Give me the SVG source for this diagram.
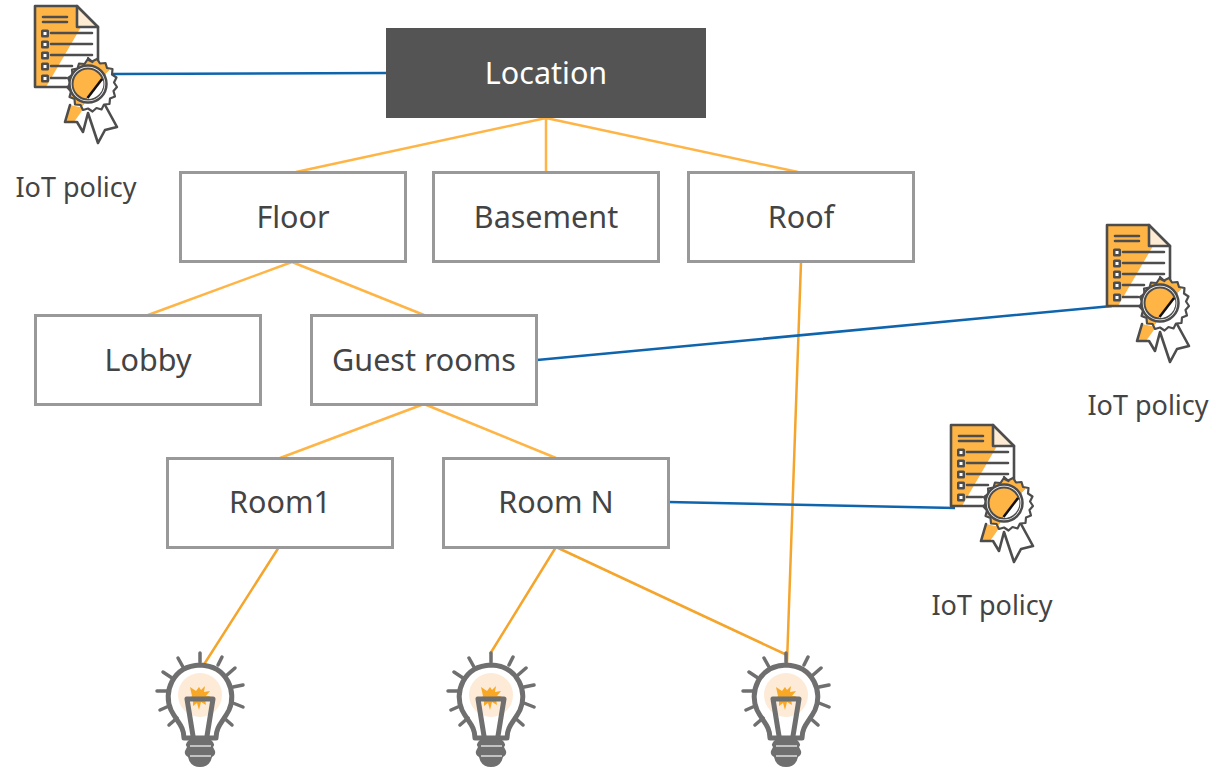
<svg xmlns="http://www.w3.org/2000/svg" width="1216" height="768" viewBox="0 0 1216 768">
<style>
text{font-family:"Noto Sans","Open Sans",sans-serif;font-size:30.500px;fill:#444;text-anchor:middle}
.box{fill:#fff;stroke:#999;stroke-width:3}
.o{stroke:#ffb546;stroke-width:2.5;fill:none}
.d{stroke:#f5a52c;stroke-width:2.5;fill:none}
.b{stroke:#0e64ad;stroke-width:2.5;fill:none}
.cl{fill:none;stroke:#4d4d4d;stroke-width:2.6;stroke-linejoin:round;stroke-linecap:round}
.bl{fill:none;stroke:#6f6f6f;stroke-width:5;stroke-linejoin:round;stroke-linecap:round}
</style>
<defs>
<linearGradient id="seal" gradientUnits="userSpaceOnUse" x1="74" y1="73.500" x2="116" y2="104.500"><stop offset="0.500" stop-color="#ffb546"/><stop offset="0.500" stop-color="#fff"/></linearGradient>
<g id="cert">
<path d="M35 6H77L98 27V87H35Z" fill="#fff"/>
<path d="M35 6H77V27H81L60 63L46 87H35Z" fill="#ffb546"/>
<path d="M77 6L98 27H77Z" fill="#fdebd3"/>
<path class="cl" d="M35 6H77L98 27V87H35Z"/>
<path class="cl" d="M77 6V27H98"/>
<path class="cl" d="M43 17H67M43 22H67M51 33H92M51 44H92M51 55H92M51 66H72M51 78H66"/>
<g fill="#4d4d4d"><rect x="41" y="29.500" width="8" height="8" rx="1.500"/><rect x="41" y="40.500" width="8" height="8" rx="1.500"/><rect x="41" y="51.500" width="8" height="8" rx="1.500"/><rect x="41" y="62.500" width="8" height="8" rx="1.500"/><rect x="41" y="74.500" width="8" height="8" rx="1.500"/></g>
<g fill="#fff"><rect x="43.500" y="32" width="3" height="3"/><rect x="43.500" y="43" width="3" height="3"/><rect x="43.500" y="54" width="3" height="3"/><rect x="43.500" y="65" width="3" height="3"/><rect x="43.500" y="77" width="3" height="3"/></g>
<path d="M70 105L65 122L77 122L83 132L88 113L98 143L105 130L117 127L105 105Z" fill="#fff"/>
<path d="M70 105L65 122L74 122L84 108Z" fill="#ffb546"/>
<path class="cl" d="M70 105L65 122L77 122L83 132L88 113L98 143L105 130L117 127L105 105"/>
<path d="M88 58l4 3.500 5-2.500 3 4.500 5.500-.5 1.500 5 5.500 1-.5 5.500 4.500 3-2.500 5 3 4.500-3.500 4 1.500 5.500-5 2-.5 5.500-5.500.5-2.500 5-5-1.500-4 3.500-4.500-3-5 1.500-2.500-5-5.500-.5-.5-5.500-5-2 1.500-5.500-3.500-4 3-4.500-2.500-5 4.500-3-.5-5.500 5.500-1 1.500-5 5.500.5 3-4.500 5 2.500Z" fill="url(#seal)" stroke="#4d4d4d" stroke-width="2.200" stroke-linejoin="round"/>
<circle cx="88" cy="84" r="18.500" fill="#fff" stroke="#4d4d4d" stroke-width="2.500"/>
<circle cx="88" cy="84" r="15.500" fill="#ffb546" stroke="#4d4d4d" stroke-width="2"/>
<path d="M103 80A15.500 15.500 0 0 1 87 99Z" fill="#fff"/>
<path d="M87.500 98L102 79" stroke="#111" stroke-width="2.500"/>
</g>
<g id="bulb">
<circle cx="200" cy="695" r="22" fill="#fdebd8"/>
<path d="M190 687l6 4 3-4 2 3 4-4-1 6 6-1-4 5h5l-6 3 1 6-5-3-2 8-2-7-4 3 0-6-4 0 3-4Z" fill="#f9a825"/>
<path class="bl" d="M184 738C184 726 177 722 171 710C163 693 172 666 200 665C228 666 237 693 229 710C223 722 216 726 216 738Z"/>
<path class="bl" d="M193 736L187 699H213L207 736"/>
<path class="bl" style="stroke-width:3.500" d="M200 653V662M178 658L183 667M222 657L218 665M163 672L172 678M235 668L227 675M157 691H167M233 687L243 685M160 710L169 706M233 703L243 707M169 725L177 718M224 718L232 725"/>
<path d="M189 740H211Q216 744 213 747L215 751Q216 755 212 757Q210 767 200 767Q190 767 188 757Q184 755 185 751L187 747Q184 744 189 740Z" fill="#6f6f6f"/>
<path d="M190 746H211M190 756H211" stroke="#ddd" stroke-width="1.500"/>
</g>
</defs>
<g id="connectors">
<path class="o" d="M546 118L296 172M546 118V172M546 118L798 172M292 262L148 315M292 262L424 315M424 404L280 458M424 404L556 458"/>
<path class="d" d="M279 547L203 666M556 547L490 654M556 547L787 655M801 262L787 663"/>
<path class="b" d="M112 74L387 73M537 360L1112 306M668 502L955 508"/>
</g>
<g id="location"><rect x="386" y="28" width="320" height="90" fill="#545454"/><text x="546" y="84" style="fill:#fff">Location</text></g>
<g id="floor"><rect class="box" x="180.500" y="172.500" width="225" height="89"/><text x="293" y="228">Floor</text></g>
<g id="basement"><rect class="box" x="433.500" y="172.500" width="225" height="89"/><text x="546" y="228">Basement</text></g>
<g id="roof"><rect class="box" x="688.500" y="172.500" width="225" height="89"/><text x="801" y="228">Roof</text></g>
<g id="lobby"><rect class="box" x="35.500" y="315.500" width="225" height="89"/><text x="148" y="371">Lobby</text></g>
<g id="guest-rooms"><rect class="box" x="311.500" y="315.500" width="225" height="89"/><text x="424" y="371">Guest rooms</text></g>
<g id="room1"><rect class="box" x="167.500" y="458.500" width="225" height="89"/><text x="280" y="513">Room1</text></g>
<g id="room-n"><rect class="box" x="443.500" y="458.500" width="225" height="89"/><text x="556" y="513">Room N</text></g>
<g id="policy-1"><use href="#cert"/><text x="76" y="197" style="font-size:27px">IoT policy</text></g>
<g id="policy-2"><use href="#cert" x="1072" y="219"/><text x="1148" y="415" style="font-size:27px">IoT policy</text></g>
<g id="policy-3"><use href="#cert" x="916" y="419"/><text x="992" y="615" style="font-size:27px">IoT policy</text></g>
<g id="bulb-1"><use href="#bulb"/></g>
<g id="bulb-2"><use href="#bulb" x="291"/></g>
<g id="bulb-3"><use href="#bulb" x="586"/></g>
</svg>
